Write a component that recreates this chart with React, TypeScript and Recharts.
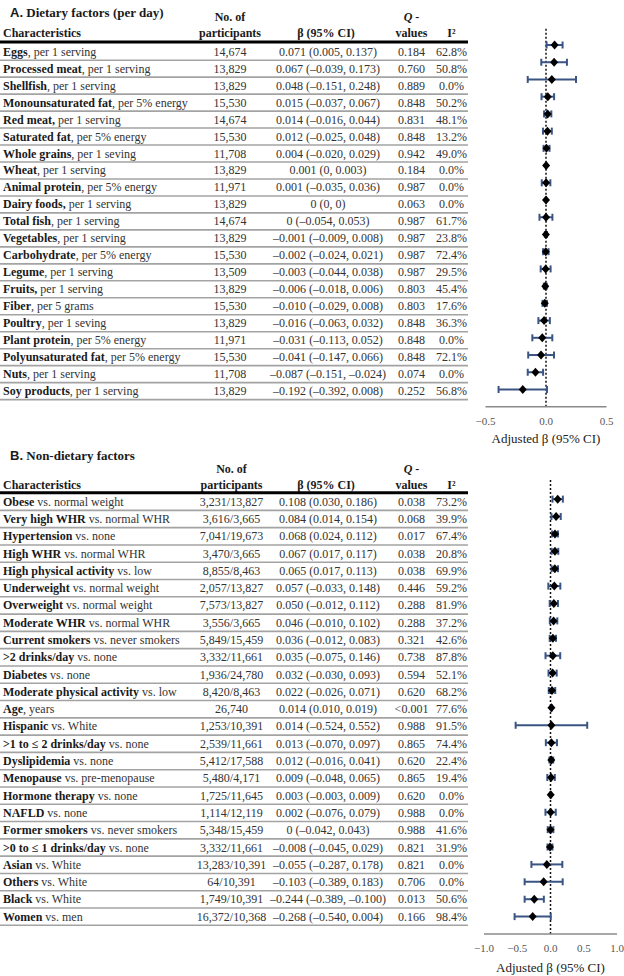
import React from 'react';
import { ScatterChart, Scatter, XAxis, YAxis, ErrorBar, ReferenceLine } from 'recharts';

// ---- A. Dietary factors ----
const dietBold = [
  'Eggs', 'Processed meat', 'Shellfish', 'Monounsaturated fat', 'Red meat,', 'Saturated fat',
  'Whole grains', 'Wheat', 'Animal protein', 'Dairy foods,', 'Total fish', 'Vegetables',
  'Carbohydrate', 'Legume', 'Fruits,', 'Fiber', 'Poultry', 'Plant protein',
  'Polyunsaturated fat', 'Nuts', 'Soy products',
];
const dietRest = [
  ', per 1 serving', ', per 1 serving', ', per 1 serving', ', per 5% energy', ' per 1 serving', ', per 5% energy',
  ', per 1 seving', ', per 1 serving', ', per 5% energy', ' per 1 serving', ', per 1 serving', ', per 1 serving',
  ', per 5% energy', ', per 1 serving', ' per 1 serving', ', per 5 grams', ', per 1 seving', ', per 5% energy',
  ', per 5% energy', ', per 1 serving', ', per 1 serving',
];
const dietN = [
  '14,674', '13,829', '13,829', '15,530', '14,674', '15,530', '11,708', '13,829', '11,971', '13,829', '14,674',
  '13,829', '15,530', '13,509', '13,829', '15,530', '13,829', '11,971', '15,530', '11,708', '13,829',
];
const dietBeta = [0.071, 0.067, 0.048, 0.015, 0.014, 0.012, 0.004, 0.001, 0.001, 0, 0, -0.001, -0.002, -0.003, -0.006, -0.01, -0.016, -0.031, -0.041, -0.087, -0.192];
const dietLow = [0.005, -0.039, -0.151, -0.037, -0.016, -0.025, -0.02, 0, -0.035, 0, -0.054, -0.009, -0.024, -0.044, -0.018, -0.029, -0.063, -0.113, -0.147, -0.151, -0.392];
const dietHigh = [0.137, 0.173, 0.248, 0.067, 0.044, 0.048, 0.029, 0.003, 0.036, 0, 0.053, 0.008, 0.021, 0.038, 0.006, 0.008, 0.032, 0.052, 0.066, -0.024, 0.008];
const dietQ = ['0.184', '0.760', '0.889', '0.848', '0.831', '0.848', '0.942', '0.184', '0.987', '0.063', '0.987', '0.987', '0.987', '0.987', '0.803', '0.803', '0.848', '0.848', '0.848', '0.074', '0.252'];
const dietI2 = ['62.8%', '50.8%', '0.0%', '50.2%', '48.1%', '13.2%', '49.0%', '0.0%', '0.0%', '0.0%', '61.7%', '23.8%', '72.4%', '29.5%', '45.4%', '17.6%', '36.3%', '0.0%', '72.1%', '0.0%', '56.8%'];

// ---- B. Non-dietary factors ----
const otherBold = [
  'Obese', 'Very high WHR', 'Hypertension', 'High WHR', 'High physical activity', 'Underweight',
  'Overweight', 'Moderate WHR', 'Current smokers', '>2 drinks/day', 'Diabetes', 'Moderate physical activity',
  'Age', 'Hispanic', '>1 to \u2264 2 drinks/day', 'Dyslipidemia', 'Menopause', 'Hormone therapy', 'NAFLD',
  'Former smokers', '>0 to \u2264 1 drinks/day', 'Asian', 'Others', 'Black', 'Women',
];
const otherRest = [
  ' vs. normal weight', ' vs. normal WHR', ' vs. none', ' vs. normal WHR', ' vs. low', ' vs. normal weight',
  ' vs. normal weight', ' vs. normal WHR', ' vs. never smokers', ' vs. none', ' vs. none', ' vs. low',
  ', years', ' vs. White', ' vs. none', ' vs. none', ' vs. pre-menopause', ' vs. none', ' vs. none',
  ' vs. never smokers', ' vs. none', ' vs. White', ' vs. White', ' vs. White', ' vs. men',
];
const otherN = [
  '3,231/13,827', '3,616/3,665', '7,041/19,673', '3,470/3,665', '8,855/8,463', '2,057/13,827', '7,573/13,827',
  '3,556/3,665', '5,849/15,459', '3,332/11,661', '1,936/24,780', '8,420/8,463', '26,740', '1,253/10,391',
  '2,539/11,661', '5,412/17,588', '5,480/4,171', '1,725/11,645', '1,114/12,119', '5,348/15,459', '3,332/11,661',
  '13,283/10,391', '64/10,391', '1,749/10,391', '16,372/10,368',
];
const otherBeta = [0.108, 0.084, 0.068, 0.067, 0.065, 0.057, 0.05, 0.046, 0.036, 0.035, 0.032, 0.022, 0.014, 0.014, 0.013, 0.012, 0.009, 0.003, 0.002, 0, -0.008, -0.055, -0.103, -0.244, -0.268];
const otherLow = [0.03, 0.014, 0.024, 0.017, 0.017, -0.033, -0.012, -0.01, -0.012, -0.075, -0.03, -0.026, 0.01, -0.524, -0.07, -0.016, -0.048, -0.003, -0.076, -0.042, -0.045, -0.287, -0.389, -0.389, -0.54];
const otherHigh = [0.186, 0.154, 0.112, 0.117, 0.113, 0.148, 0.112, 0.102, 0.083, 0.146, 0.093, 0.071, 0.019, 0.552, 0.097, 0.041, 0.065, 0.009, 0.079, 0.043, 0.029, 0.178, 0.183, -0.1, 0.004];
const otherQ = ['0.038', '0.068', '0.017', '0.038', '0.038', '0.446', '0.288', '0.288', '0.321', '0.738', '0.594', '0.620', '<0.001', '0.988', '0.865', '0.620', '0.865', '0.620', '0.988', '0.988', '0.821', '0.821', '0.706', '0.013', '0.166'];
const otherI2 = ['73.2%', '39.9%', '67.4%', '20.8%', '69.9%', '59.2%', '81.9%', '37.2%', '42.6%', '87.8%', '52.1%', '68.2%', '77.6%', '91.5%', '74.4%', '22.4%', '19.4%', '0.0%', '0.0%', '41.6%', '31.9%', '0.0%', '0.0%', '50.6%', '98.4%'];

const SERIF = '"Liberation Serif", "Times New Roman", serif';
const SANS = '"Liberation Sans", Arial, sans-serif';
const BAR_COLOR = '#3a5584';

const fmt = (v: number) => (v === 0 ? '0' : (v < 0 ? '\u2013' : '') + Math.abs(v).toFixed(3));
const fmtTick = (v: number) => (v < 0 ? '\u2212' : '') + Math.abs(v).toFixed(1);

function Diamond(props: any) {
  const { cx, cy } = props;
  if (cx == null || cy == null) return null;
  return <polygon points={`${cx},${cy - 4.5} ${cx + 4},${cy} ${cx},${cy + 4.5} ${cx - 4},${cy}`} fill="#000" />;
}

interface TableProps {
  panel: string;
  title: string;
  titleY: number;
  head1Y: number;
  head2Y: number;
  ruleY: number;
  rowY0: number;
  rowStep: number;
  nX: number;
  bold: string[];
  rest: string[];
  n: string[];
  beta: number[];
  low: number[];
  high: number[];
  q: string[];
  i2: string[];
}

function TableBlock(p: TableProps) {
  const betaX = 328;
  const qX = 411.5;
  const iX = 451.5;
  return (
    <g fontFamily={SERIF} fontSize={12} fill="#1a1a1a">
      <text x={10} y={p.titleY} fontSize={13} fontWeight="bold" dominantBaseline="central">
        <tspan fontFamily={SANS}>{p.panel}</tspan>
        <tspan>{' ' + p.title}</tspan>
      </text>
      <g fontWeight="bold" dominantBaseline="central">
        <text x={p.nX} y={p.head1Y} textAnchor="middle">No. of</text>
        <text x={qX} y={p.head1Y} textAnchor="middle"><tspan fontStyle="italic">Q</tspan> -</text>
        <text x={3} y={p.head2Y}>Characteristics</text>
        <text x={p.nX} y={p.head2Y} textAnchor="middle">participants</text>
        <text x={betaX - 2} y={p.head2Y} textAnchor="middle">β (95% CI)</text>
        <text x={qX} y={p.head2Y} textAnchor="middle">values</text>
        <text x={iX} y={p.head2Y} textAnchor="middle">I²</text>
      </g>
      <line x1={0} x2={468} y1={p.ruleY} y2={p.ruleY} stroke="#000" strokeWidth={3} />
      {p.bold.map((b, i) => {
        const y = p.rowY0 + i * p.rowStep;
        return (
          <g key={i} dominantBaseline="central">
            <text x={3} y={y}>
              <tspan fontWeight="bold">{b}</tspan>
              <tspan fill="#333">{p.rest[i]}</tspan>
            </text>
            <text x={p.nX} y={y} textAnchor="middle" fill="#333">{p.n[i]}</text>
            <text x={betaX} y={y} textAnchor="middle" fill="#333">
              {`${fmt(p.beta[i])} (${fmt(p.low[i])}, ${fmt(p.high[i])})`}
            </text>
            <text x={qX} y={y} textAnchor="middle" fill="#333">{p.q[i]}</text>
            <text x={iX} y={y} textAnchor="middle" fill="#333">{p.i2[i]}</text>
            <line x1={0} x2={468} y1={y + p.rowStep / 2} y2={y + p.rowStep / 2} stroke="#a3a3a3" strokeWidth={1.6} />
          </g>
        );
      })}
    </g>
  );
}

interface ForestProps {
  top: number;
  height: number;
  beta: number[];
  low: number[];
  high: number[];
  xDomain: [number, number];
  ticks: number[];
  yDomain: [number, number];
  margin: { top: number; right: number; bottom: number; left: number };
  axisHeight: number;
}

function Forest(p: ForestProps) {
  const data = p.beta.map((b, i) => ({ row: i, beta: b, err: [b - p.low[i], p.high[i] - b] }));
  return (
    <div style={{ position: 'absolute', left: 0, top: p.top }}>
      <ScatterChart width={624} height={p.height} margin={p.margin}>
        <XAxis
          type="number"
          dataKey="beta"
          domain={p.xDomain}
          ticks={p.ticks}
          tickFormatter={fmtTick}
          axisLine={{ stroke: '#8a8a8a', strokeWidth: 1.5 }}
          tickLine={false}
          tickMargin={4}
          tick={{ fill: '#555', fontSize: 11, fontFamily: SERIF }}
          height={p.axisHeight}
          label={{ value: 'Adjusted β (95% CI)', position: 'insideBottom', offset: 2, fill: '#222', fontSize: 13, fontFamily: SERIF }}
        />
        <YAxis type="number" dataKey="row" domain={p.yDomain} reversed hide />
        <ReferenceLine x={0} stroke="#111" strokeDasharray="2 2" strokeWidth={1.5} />
        <Scatter data={data} isAnimationActive={false} shape={Diamond}>
          <ErrorBar dataKey="err" direction="x" width={3.5} stroke={BAR_COLOR} strokeWidth={2} />
        </Scatter>
      </ScatterChart>
    </div>
  );
}

export default function App() {
  return (
    <div style={{ position: 'absolute', left: 0, top: 0, width: 624, height: 976, background: '#fff', overflow: 'hidden' }}>
      <svg width={624} height={976} style={{ position: 'absolute', left: 0, top: 0 }}>
        <TableBlock
          panel="A." title="Dietary factors (per day)" titleY={12} head1Y={16.7} head2Y={33.3} ruleY={42}
          rowY0={51.7} rowStep={16.97} nX={230}
          bold={dietBold} rest={dietRest} n={dietN} beta={dietBeta} low={dietLow} high={dietHigh} q={dietQ} i2={dietI2}
        />
        <TableBlock
          panel="B." title="Non-dietary factors" titleY={455} head1Y={469} head2Y={485} ruleY={492.7}
          rowY0={501.7} rowStep={17.29} nX={231.5}
          bold={otherBold} rest={otherRest} n={otherN} beta={otherBeta} low={otherLow} high={otherHigh} q={otherQ} i2={otherI2}
        />
      </svg>
      <Forest
        top={0} height={450} beta={dietBeta} low={dietLow} high={dietHigh}
        xDomain={[-0.5, 0.5]} ticks={[-0.5, 0, 0.5]} yDomain={[-1, 21]}
        margin={{ top: 27.8, right: 17.5, bottom: 5.3, left: 485.5 }} axisHeight={38}
      />
      <Forest
        top={460} height={516} beta={otherBeta} low={otherLow} high={otherHigh}
        xDomain={[-1, 1]} ticks={[-1, -0.5, 0, 0.5, 1]} yDomain={[-1.1, 25]}
        margin={{ top: 20, right: 7, bottom: 2, left: 484 }} axisHeight={40}
      />
    </div>
  );
}
